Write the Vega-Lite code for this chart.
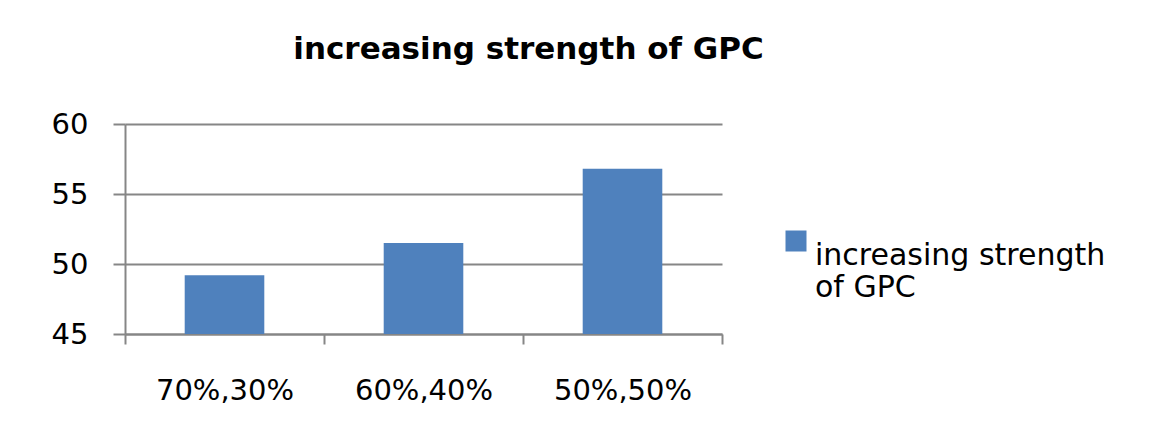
{
  "$schema": "https://vega.github.io/schema/vega-lite/v6.json",
  "width": 597,
  "height": 210,
  "autosize": {"type": "none"},
  "padding": {"left": 125, "top": 124, "right": 428, "bottom": 102},
  "background": "white",
  "title": {
    "text": "increasing strength of GPC",
    "font": "DejaVu Sans",
    "fontSize": 31,
    "fontWeight": "bold",
    "color": "#000000",
    "anchor": "middle",
    "dx": 105,
    "offset": 44
  },
  "data": {
    "values": [
      {"ratio": "70%,30%", "strength": 49.2, "series": "increasing strength of GPC"},
      {"ratio": "60%,40%", "strength": 51.5, "series": "increasing strength of GPC"},
      {"ratio": "50%,50%", "strength": 56.8, "series": "increasing strength of GPC"}
    ]
  },
  "mark": {"type": "bar", "clip": true, "width": {"band": 0.4}},
  "encoding": {
    "x": {
      "field": "ratio",
      "type": "nominal",
      "sort": null,
      "scale": {"paddingInner": 0, "paddingOuter": 0},
      "axis": {
        "title": null,
        "labelAngle": 0,
        "labelFont": "DejaVu Sans",
        "labelFontSize": 29,
        "labelColor": "#000000",
        "labelPadding": 32,
        "tickBand": "extent",
        "tickSize": 10,
        "tickColor": "#868686",
        "tickWidth": 2,
        "domainColor": "#868686",
        "domainWidth": 2
      }
    },
    "y": {
      "field": "strength",
      "type": "quantitative",
      "scale": {"domain": [45, 60], "zero": false, "nice": false},
      "axis": {
        "title": null,
        "values": [45, 50, 55, 60],
        "labelFont": "DejaVu Sans",
        "labelFontSize": 29,
        "labelColor": "#000000",
        "labelPadding": 25,
        "tickSize": 12,
        "tickColor": "#868686",
        "tickWidth": 2,
        "domainColor": "#868686",
        "domainWidth": 2,
        "grid": true,
        "gridColor": "#868686",
        "gridWidth": 2
      }
    },
    "color": {
      "field": "series",
      "type": "nominal",
      "scale": {"range": ["#4F81BD"]},
      "legend": {
        "title": null,
        "orient": "none",
        "legendX": 656,
        "legendY": 102,
        "symbolType": "square",
        "symbolSize": 441,
        "symbolStrokeWidth": 0,
        "labelFont": "DejaVu Sans",
        "labelFontSize": 30,
        "labelColor": "#000000",
        "labelLimit": 400,
        "labelExpr": "['increasing strength', 'of GPC']",
        "labelBaseline": "top",
        "labelOffset": 4
      }
    }
  },
  "config": {"view": {"stroke": null}}
}
